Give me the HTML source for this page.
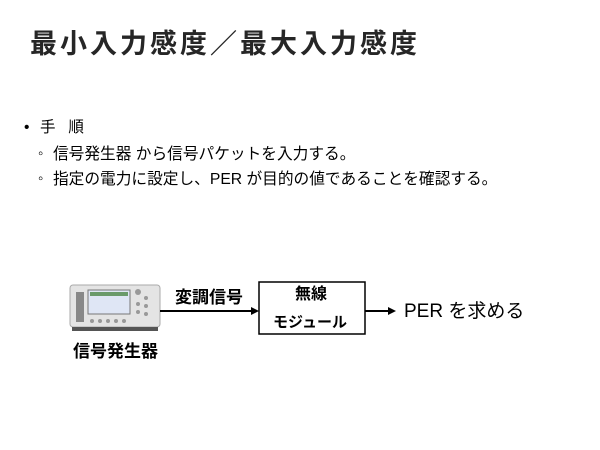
<!DOCTYPE html>
<html><head><meta charset="utf-8"><style>
body{margin:0;width:600px;height:450px;background:#fff;position:relative;overflow:hidden;font-family:"Liberation Sans","Noto Sans CJK JP",sans-serif;color:#000}
.a{position:absolute;white-space:nowrap}
</style></head><body>
<div class="a" style="left:30px;top:26px;font-size:27px;font-weight:bold;letter-spacing:3px;color:#262626;line-height:36px">最小入力感度／最大入力感度</div>
<div class="a" style="left:24px;top:118px;font-size:15.5px;line-height:20px">•</div>
<div class="a" style="left:40px;top:118px;font-size:15.5px;line-height:20px">手&nbsp;&nbsp;&nbsp;順</div>
<div class="a" style="left:38px;top:144px;font-size:15px;line-height:20px">◦</div>
<div class="a" style="left:53px;top:145px;font-size:15.7px;line-height:20px">信号発生器 から信号パケットを入力する。</div>
<div class="a" style="left:38px;top:169px;font-size:15px;line-height:20px">◦</div>
<div class="a" style="left:53px;top:170px;font-size:15.7px;line-height:20px">指定の電力に設定し、PER が目的の値であることを確認する。</div>
<svg class="a" style="left:0;top:0" width="600" height="450">
<rect x="70" y="285" width="90" height="42" rx="3" fill="#e4e4e4" stroke="#aaa"/>
<rect x="72" y="327" width="86" height="4" fill="#555"/>
<rect x="88" y="290" width="42" height="24" fill="#dfe6f5" stroke="#777"/>
<rect x="90" y="292" width="38" height="4" fill="#6a9a6a"/>
<rect x="76" y="292" width="8" height="30" fill="#888"/>
<g fill="#999"><circle cx="138" cy="292" r="3"/><circle cx="146" cy="298" r="2"/><circle cx="138" cy="304" r="2"/><circle cx="146" cy="306" r="2"/><circle cx="138" cy="312" r="2"/><circle cx="146" cy="314" r="2"/><circle cx="92" cy="321" r="2"/><circle cx="100" cy="321" r="2"/><circle cx="108" cy="321" r="2"/><circle cx="116" cy="321" r="2"/><circle cx="124" cy="321" r="2"/></g>
<line x1="160" y1="311" x2="253" y2="311" stroke="#000" stroke-width="2"/>
<polygon points="259,311 251,307 251,315" fill="#000"/>
<rect x="259" y="282" width="106" height="52" fill="#fff" stroke="#000" stroke-width="1.5"/>
<line x1="365" y1="311" x2="390" y2="311" stroke="#000" stroke-width="2"/>
<polygon points="396,311 388,307 388,315" fill="#000"/>
</svg>
<div class="a" style="left:175px;top:287px;font-size:17px;font-weight:bold;line-height:22px">変調信号</div>
<div class="a" style="left:295px;top:285px;font-size:16px;font-weight:bold;line-height:20px">無線</div>
<div class="a" style="left:273px;top:313px;font-size:15px;font-weight:bold;line-height:20px">モジュール</div>
<div class="a" style="left:404px;top:300px;font-size:19px;line-height:24px">PER を求める</div>
<div class="a" style="left:73px;top:341px;font-size:17px;font-weight:bold;line-height:22px">信号発生器</div>
</body></html>
